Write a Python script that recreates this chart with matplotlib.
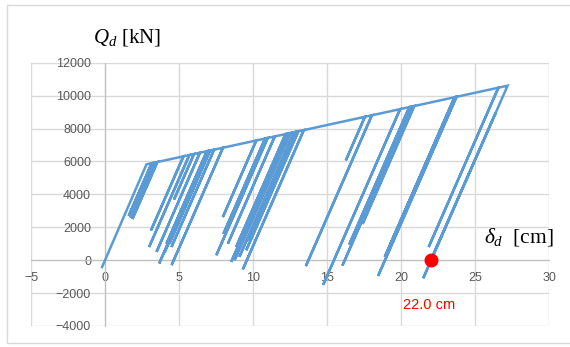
import matplotlib.pyplot as plt
from matplotlib.patches import Rectangle

plt.rcParams['mathtext.fontset'] = 'custom'
plt.rcParams['mathtext.rm'] = 'Liberation Serif'
plt.rcParams['mathtext.it'] = 'Liberation Serif:italic'

# initial loading up to yield
start_d = [-0.2, 2.8]
start_q = [-420, 5820]

# unloading excursions: point left on the backbone and the turning point below it
top_d = [3.15, 3.32, 3.54,
         5.30, 5.70, 6.01, 6.41, 6.88, 6.99, 7.03, 7.10, 7.37, 7.97,
         10.22, 10.82, 10.99, 11.47, 12.20, 12.32, 12.51, 12.76, 12.91, 13.06, 13.43,
         17.56, 18.03,
         19.94, 20.56, 20.74, 20.89,
         23.62, 23.63, 23.75,
         26.58]
top_q = [5890, 5920, 5965,
         6310, 6388, 6449, 6528, 6620, 6641, 6649, 6663, 6716, 6833,
         7274, 7392, 7425, 7519, 7662, 7686, 7723, 7772, 7802, 7831, 7903,
         8713, 8805,
         9179, 9301, 9336, 9366,
         9901, 9903, 9926,
         10481]
turn_d = [1.60, 1.70, 1.85,
          3.10, 2.98, 4.66, 3.48, 4.15, 3.66, 4.04, 4.35, 4.49, 4.50,
          7.96, 8.00, 7.52, 8.30, 8.86, 8.53, 8.75, 9.08, 9.70, 9.54, 9.31,
          16.27, 13.57,
          14.74, 16.50, 16.04, 17.40,
          18.90, 19.30, 18.45,
          21.87]
turn_q = [2700, 2600, 2500,
          1800, 800, 3680, 500, 1000, -200, 500, 1000, 800, -300,
          2620, 1600, 300, 1000, 800, -100, 0, 200, 1200, 600, -560,
          6060, -360,
          -1500, 950, -330, 2200,
          200, 1000, -960,
          800]

# peak and the final cycles down to the residual displacement
tail_d = [27.2, 21.5, 26.4, 22.0]
tail_q = [10600, -1100, 8960, 0]

residual = 22.0

path_d = list(start_d)
path_q = list(start_q)
for td, tq, bd, bq in zip(top_d, top_q, turn_d, turn_q):
    path_d += [td, bd, td]
    path_q += [tq, bq, tq]
path_d += tail_d
path_q += tail_q

fig = plt.figure(figsize=(5.7, 3.47), dpi=100)
fig.patches.append(Rectangle((7 / 570, 1 - 343 / 347), 570 / 570, 338 / 347,
                             transform=fig.transFigure, fill=False,
                             ec='#D9D9D9', lw=1))

ax = fig.add_axes([31 / 570, 1 - 326 / 347, 518 / 570, 263.3 / 347])
ax.plot(path_d, path_q, color='#5B9BD5', lw=1.8, solid_joinstyle='miter', zorder=3)
ax.plot([residual], [0], 'o', color='#FF0000', ms=9, zorder=4)
ax.text(residual - 0.1, -2700, f'{residual:.1f} cm', color='#FF0000',
        ha='center', va='center', fontsize=10.5, family='Liberation Sans')

ax.set_xlim(-5, 30)
ax.set_ylim(-4000, 12000)
ax.set_xticks(range(-5, 31, 5))
ax.set_yticks(range(-4000, 12001, 2000))
ax.grid(color='#D9D9D9', lw=1)
for gl in ax.get_xgridlines() + ax.get_ygridlines():
    gl.set_clip_on(False)
ax.set_axisbelow(True)

# axes cross at the origin
for s in ['right', 'top']:
    ax.spines[s].set_visible(False)
ax.spines['bottom'].set_position(('data', 0))
ax.spines['left'].set_position(('data', 0))
ax.spines['bottom'].set_color('#BFBFBF')
ax.spines['left'].set_color('#BFBFBF')

ax.tick_params(axis='both', length=0, labelsize=9, labelcolor='#595959')
ax.tick_params(axis='y', pad=10)
ax.tick_params(axis='x', pad=8.5)
for lab in ax.get_xticklabels() + ax.get_yticklabels():
    lab.set_family('Liberation Sans')

fig.text(93 / 570, 1 - 42 / 347, r'$Q_d$ [kN]', fontsize=15,
         family='Liberation Serif', va='baseline', ha='left')
fig.text(484 / 570, 1 - 243 / 347, r'$\delta_d$  [cm]', fontsize=15.5,
         family='Liberation Serif', va='baseline', ha='left')

fig.savefig('out.png', dpi=100, facecolor='white')
